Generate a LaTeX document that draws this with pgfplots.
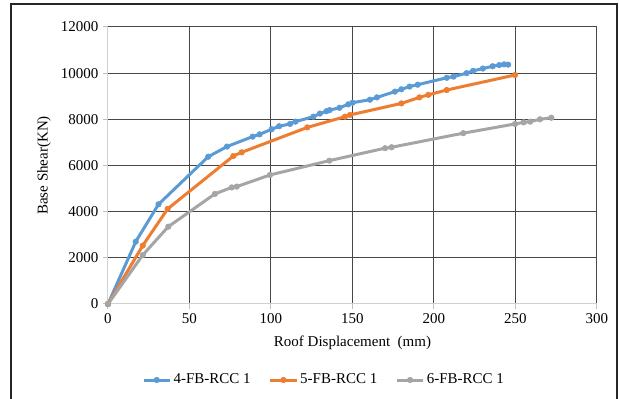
\documentclass[border=0pt]{standalone}
\usepackage{fontspec}
\setmainfont{Liberation Serif}
\usepackage{pgfplots}
\pgfplotsset{compat=1.18}
\definecolor{sblue}{HTML}{5B9BD5}
\definecolor{sorange}{HTML}{ED7D31}
\definecolor{sgray}{HTML}{A5A5A5}
\newcommand{\cf}{\fontsize{11.25}{13.5}\selectfont}
\begin{document}
\begin{tikzpicture}
\useasboundingbox (0pt,0pt) rectangle (464.25pt,299.25pt);
\draw[line width=0.9pt, black!85] (8.25pt,-20pt) -- (8.25pt,296.25pt) -- (462.75pt,296.25pt) -- (462.75pt,-20pt);
\begin{axis}[
  at={(81pt,71.25pt)}, anchor=origin,
  scale only axis, width=366.75pt, height=207.75pt,
  xmin=0, xmax=300, ymin=0, ymax=12000,
  xtick={0,50,...,300}, ytick={0,2000,...,12000},
  scaled ticks=false,
  grid=major,
  major grid style={color=black!72, line width=0.75pt},
  axis x line*=bottom, axis y line*=left,
  axis line style={-, color=black!18, line width=0.75pt},
  tick align=outside, major tick length=3.75pt,
  tick style={color=black!25, line width=0.75pt},
  /pgf/number format/assume math mode=true,
  /pgf/number format/1000 sep={},
  tick label style={font=\cf},
  xlabel={Roof Displacement~~(mm)},
  ylabel={Base Shear(KN)},
  every axis x label/.style={at={(axis description cs:0.5,0)}, anchor=center, yshift=-29.25pt, font=\cf},
  every axis y label/.style={at={(axis description cs:0,0.5)}, rotate=90, anchor=center, yshift=48pt, font=\cf},
  legend columns=-1,
  legend style={at={(0.4417,-0.2744)}, anchor=center, draw=none, fill=none, font=\cf,
    nodes={inner xsep=1.5pt},
    /tikz/every even column/.append style={column sep=12pt}},
  legend image code/.code={\draw[mark repeat=2,mark phase=2,#1] plot coordinates {(0cm,0cm) (0.35cm,0cm) (0.7cm,0cm)};},
  every axis plot/.append style={line width=2.25pt, mark=*, mark size=2.1pt, line join=round, mark options={solid, line width=0.4pt}},
]
\addplot[color=sblue] coordinates {
(0,0) (17,2700) (31,4320) (61.5,6380) (73,6820) (88.7,7250) (93,7350)
(100.4,7570) (105,7700) (111.7,7800) (115,7900) (126,8115) (130,8250)
(134,8350) (136,8400) (142,8500) (147.4,8650) (150,8720) (160.7,8850)
(165,8950) (176,9200) (180,9300) (185,9420) (190,9500) (207.8,9800)
(212,9850) (220,10000) (224,10100) (230,10200) (236,10300) (240,10350)
(243,10380) (245.5,10370)};
\addlegendentry{4-FB-RCC 1}
\addplot[color=sorange] coordinates {
(0,0) (21.3,2530) (36.6,4120) (76.9,6410) (82,6570) (122.3,7650)
(145.4,8115) (148.5,8190) (180,8690) (191,8950) (196.5,9060) (207.8,9270)
(249.7,9920)};
\addlegendentry{5-FB-RCC 1}
\addplot[color=sgray] coordinates {
(0,0) (21.3,2120) (37,3350) (65.6,4770) (75.9,5050) (79,5085) (99.4,5590)
(135.8,6210) (170,6750) (174,6790) (218,7400) (249.7,7800) (255,7870)
(259,7900) (265,8000) (272,8070)};
\addlegendentry{6-FB-RCC 1}
\end{axis}
\end{tikzpicture}
\end{document}
